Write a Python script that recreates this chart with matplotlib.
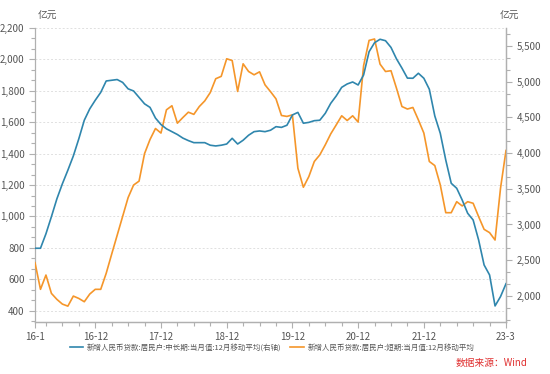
import matplotlib
matplotlib.use("Agg")
import matplotlib.pyplot as plt
from matplotlib.ticker import FixedLocator, AutoMinorLocator, FuncFormatter

plt.rcParams['font.family'] = ['Noto Sans CJK SC', 'DejaVu Sans']

# Months: 2016-01 .. 2023-03
months = [f"{16 + (i // 12)}-{i % 12 + 1}" for i in range(87)]

# 新增人民币贷款:居民户:中长期:当月值:12月移动平均 (right axis)
long_term = [2667, 2667, 2870, 3110, 3360, 3570, 3760, 3960, 4200, 4460,
             4620, 4740, 4850, 5010, 5020, 5030, 4990, 4900, 4870, 4780,
             4690, 4640, 4490, 4400, 4340, 4300, 4260, 4210, 4175, 4146,
             4146, 4146, 4110, 4100, 4110, 4127, 4207, 4127, 4180, 4250,
             4300, 4310, 4300, 4320, 4370, 4360, 4390, 4534, 4570, 4418,
             4430, 4454, 4460, 4557, 4697, 4800, 4921, 4968, 4996, 4954,
             5094, 5420, 5546, 5594, 5574, 5480, 5320, 5190, 5050, 5048,
             5118, 5048, 4894, 4520, 4277, 3903, 3577, 3507, 3343, 3157,
             3063, 2783, 2433, 2293, 1859, 1990, 2170]

# 新增人民币贷款:居民户:短期:当月值:12月移动平均 (left axis)
short_term = [706, 536, 627, 510, 472, 442, 429, 493, 478, 457,
              506, 536, 536, 638, 760, 880, 1000, 1120, 1200, 1225,
              1400, 1490, 1560, 1531, 1679, 1705, 1594, 1630, 1664, 1650,
              1700, 1736, 1789, 1877, 1892, 2004, 1993, 1796, 1972, 1923,
              1902, 1921, 1838, 1795, 1749, 1643, 1637, 1647, 1307, 1186,
              1254, 1350, 1392, 1456, 1526, 1583, 1641, 1611, 1641, 1601,
              1960, 2121, 2130, 1970, 1923, 1928, 1817, 1700, 1684, 1694,
              1615, 1531, 1350, 1324, 1201, 1024, 1024, 1094, 1067, 1094,
              1084, 999, 918, 897, 850, 1180, 1420]

label_months = ["16-1", "16-12", "17-12", "18-12", "19-12", "20-12", "21-12", "23-3"]
legend_long = "新增人民币贷款:居民户:中长期:当月值:12月移动平均(右轴)"
legend_short = "新增人民币贷款:居民户:短期:当月值:12月移动平均"

blue = "#2f86ad"
orange = "#f5962a"
axis_gray = "#b0b0b0"
text_gray = "#555555"

fig = plt.figure(figsize=(5.5, 3.74), dpi=100)
ax = fig.add_axes([35/550, 1 - 322/374, (506 - 35)/550, (322 - 28)/374])
ax2 = ax.twinx()

x = list(range(len(months)))
l2, = ax.plot(x, short_term, color=orange, lw=1.2, zorder=3)
l1, = ax2.plot(x, long_term, color=blue, lw=1.2, zorder=3)

ax.set_xlim(0, 86)
ax.set_ylim(328, 2200)
ax2.set_ylim(1634, 5752)

ax.set_yticks([400, 600, 800, 1000, 1200, 1400, 1600, 1800, 2000, 2200])
ax2.set_yticks([2000, 2500, 3000, 3500, 4000, 4500, 5000, 5500])
fmt = FuncFormatter(lambda v, p: f"{int(v):,}")
ax.yaxis.set_major_formatter(fmt)
ax2.yaxis.set_major_formatter(fmt)
ax.yaxis.set_minor_locator(AutoMinorLocator(3))
ax2.yaxis.set_minor_locator(AutoMinorLocator(3))

pos = [months.index(m) for m in label_months]
ax.set_xticks(pos)
ax.set_xticklabels(label_months)
ax.xaxis.set_minor_locator(FixedLocator([i for i in x if (i + 1) % 3 == 0]))

ax.grid(axis='y', which='major', color="#e0e0e0", linestyle=(0, (2, 2)), lw=0.7)
ax.set_axisbelow(True)

for a in (ax, ax2):
    a.spines["top"].set_visible(False)
    for s in ("left", "right", "bottom"):
        a.spines[s].set_color(axis_gray)
        a.spines[s].set_linewidth(0.9)
    a.tick_params(which='both', colors=axis_gray, labelcolor=text_gray, labelsize=7, width=0.8)
    a.tick_params(which='major', length=4)
    a.tick_params(which='minor', length=3)
ax2.spines["left"].set_visible(False)
ax.tick_params(axis='x', pad=3)

fig.text(38/550, 1 - 16/374, "亿元", fontsize=7, color=text_gray, ha='left', va='center')
fig.text(500/550, 1 - 16/374, "亿元", fontsize=7, color=text_gray, ha='left', va='center')

fig.legend([l1, l2], [legend_long, legend_short], loc='center', bbox_to_anchor=(272/550, 1 - 348/374),
           ncol=2, frameon=False, fontsize=5.4, handlelength=1.8, handletextpad=0.5, columnspacing=1.2,
           labelcolor=text_gray)

fig.text(527/550, 1 - 363/374, "数据来源：Wind", fontsize=7, color="#e03030", ha='right', va='center')

fig.savefig("out.png", dpi=100)
